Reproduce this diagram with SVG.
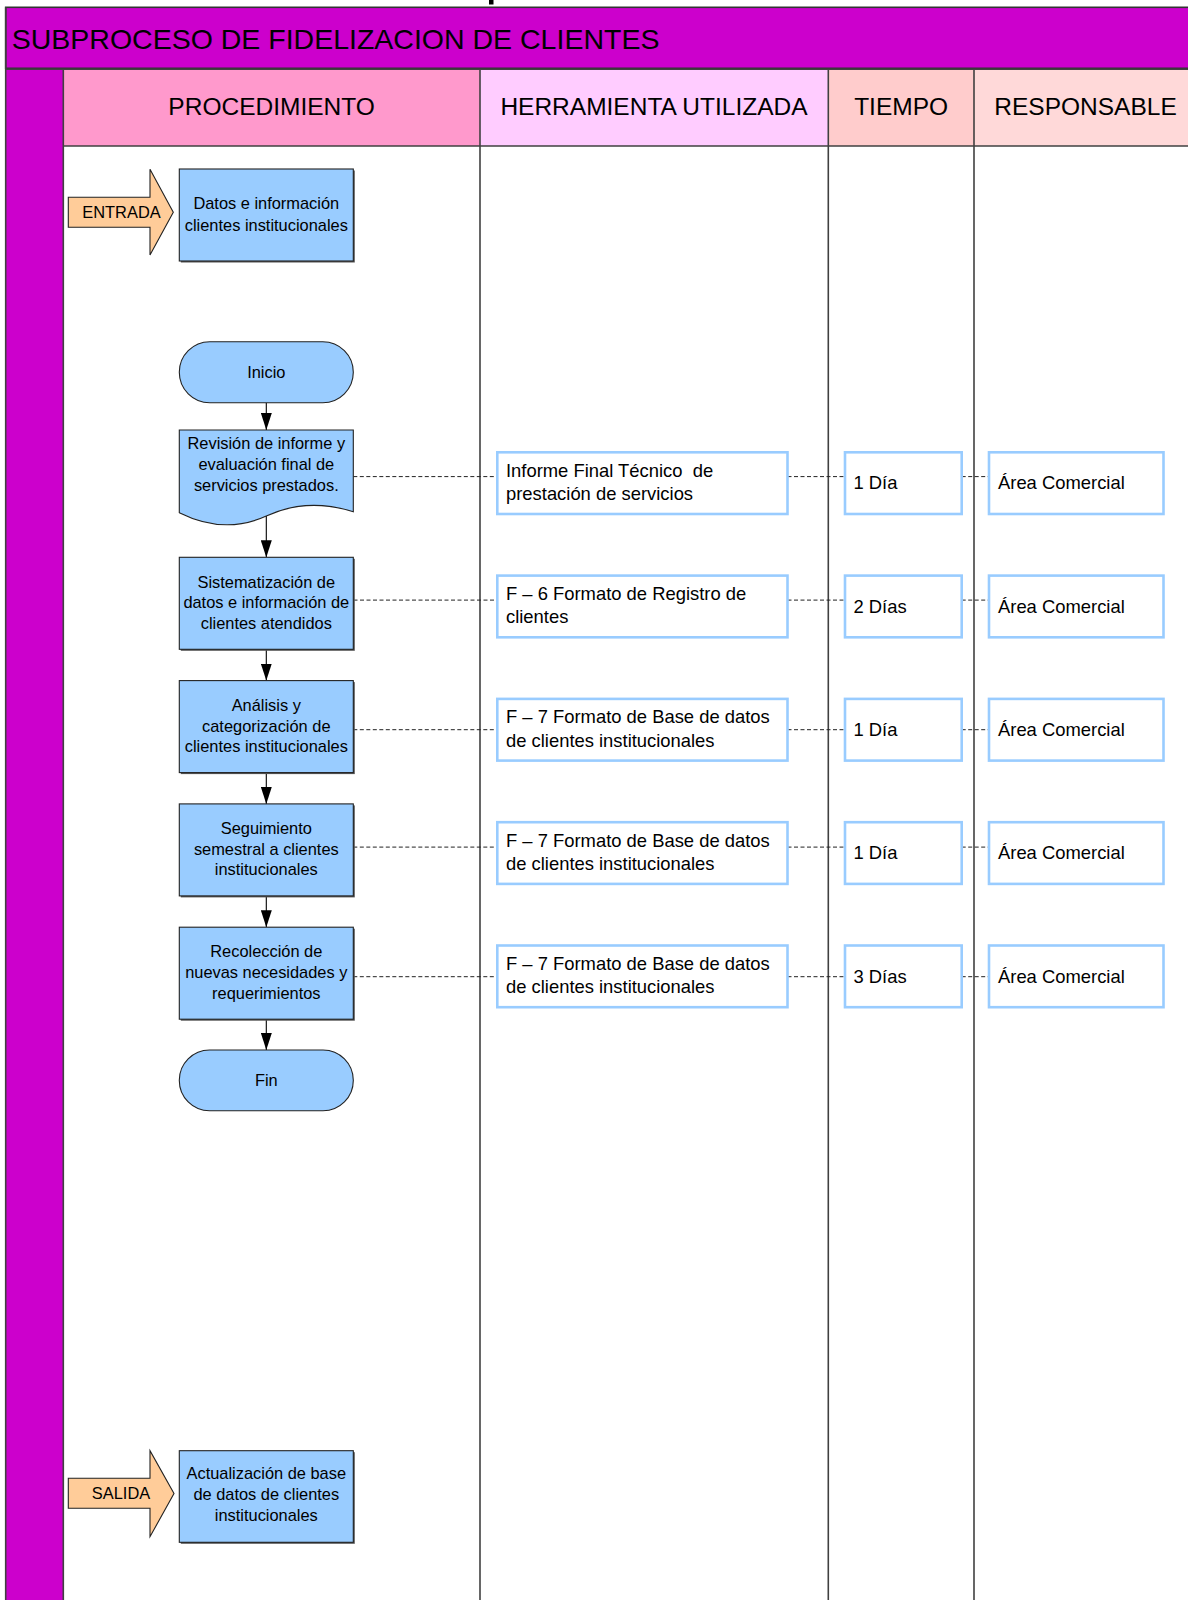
<svg xmlns="http://www.w3.org/2000/svg" width="1188" height="1600" viewBox="0 0 1188 1600">
  <defs>
    <style>
      .t { font-family: "Liberation Sans", Arial, sans-serif; fill: #000; }
      .hdr { font-size: 24.5px; text-anchor: middle; }
      .proc { font-size: 16.4px; text-anchor: middle; }
      .cell { font-size: 18.4px; }
      .grid { stroke: #404040; stroke-width: 1.6; fill: none; }
      .pbox { fill: #99CCFF; stroke: #222; stroke-width: 1.1; }
      .shadow { fill: #555; }
      .ibox { fill: #fff; stroke: #99CCFF; stroke-width: 2.6; }
      .io { fill: #FFCC99; stroke: #222; stroke-width: 1.1; }
      .flow { stroke: #000; stroke-width: 1.1; fill: none; marker-end: url(#arrow); }
      .dash { stroke: #222; stroke-width: 1; stroke-dasharray: 4 2.5; fill: none; }
    </style>
    <marker id="arrow" viewBox="0 0 17 11" refX="17" refY="5.5" markerWidth="17" markerHeight="11" markerUnits="userSpaceOnUse" orient="auto">
      <path d="M0,0 L17,5.5 L0,11 z" fill="#000"/>
    </marker>
  </defs>

  <rect x="0" y="0" width="1188" height="1600" fill="#fff"/>
  <rect x="489" y="0" width="4.5" height="4.5" fill="#000"/>

  <!-- title band -->
  <g id="title">
    <rect x="5.7" y="7.3" width="1190" height="61" fill="#CC00CC" stroke="#333" stroke-width="1.6"/>
    <text class="t" x="11.7" y="49.3" font-size="28.5">SUBPROCESO DE FIDELIZACION DE CLIENTES</text>
  </g>

  <!-- lane headers -->
  <g id="headers">
    <rect x="5.7" y="69.3" width="57.6" height="1540" fill="#CC00CC"/>
    <rect x="63.3" y="69.3" width="416.7" height="76.7" fill="#FF99CC"/>
    <rect x="480" y="69.3" width="348.3" height="76.7" fill="#FFCCFF"/>
    <rect x="828.3" y="69.3" width="145.7" height="76.7" fill="#FFCCCC"/>
    <rect x="974" y="69.3" width="220" height="76.7" fill="#FFD9D9"/>
    <text class="t hdr" x="271.6" y="115">PROCEDIMIENTO</text>
    <text class="t hdr" x="654" y="115">HERRAMIENTA UTILIZADA</text>
    <text class="t hdr" x="901.1" y="115">TIEMPO</text>
    <text class="t hdr" x="1085.5" y="115">RESPONSABLE</text>
  </g>

  <!-- grid lines -->
  <g id="grid" class="grid">
    <line x1="5.7" y1="69.3" x2="1188" y2="69.3"/>
    <line x1="63.3" y1="146" x2="1188" y2="146"/>
    <line x1="5.7" y1="7.3" x2="5.7" y2="1600"/>
    <line x1="63.3" y1="69.3" x2="63.3" y2="1600"/>
    <line x1="480" y1="69.3" x2="480" y2="1600"/>
    <line x1="828.3" y1="69.3" x2="828.3" y2="1600"/>
    <line x1="974" y1="69.3" x2="974" y2="1600"/>
  </g>

  <!-- connectors -->
  <g id="connectors">
    <line class="flow" x1="266.3" y1="402.7" x2="266.3" y2="430"/>
    <line class="flow" x1="266.3" y1="516" x2="266.3" y2="557.3"/>
    <line class="flow" x1="266.3" y1="649.3" x2="266.3" y2="680.6"/>
    <line class="flow" x1="266.3" y1="772.6" x2="266.3" y2="803.9"/>
    <line class="flow" x1="266.3" y1="895.9" x2="266.3" y2="927.2"/>
    <line class="flow" x1="266.3" y1="1019.2" x2="266.3" y2="1050"/>

    <path class="dash" d="M353.3,476.6 H497.3 M787.5,476.6 H845 M961.7,476.6 H989"/>
    <path class="dash" d="M347,600.1 H497.3 M787.5,600.1 H845 M961.7,600.1 H989"/>
    <path class="dash" d="M353.3,729.7 H497.3 M787.5,729.7 H845 M961.7,729.7 H989"/>
    <path class="dash" d="M353.3,847.1 H497.3 M787.5,847.1 H845 M961.7,847.1 H989"/>
    <path class="dash" d="M353.3,976.7 H497.3 M787.5,976.7 H845 M961.7,976.7 H989"/>
  </g>

  <!-- input -->
  <g id="entrada">
    <path class="io" d="M68.3,197.3 H150 V169.3 L173.3,212.2 L150,255 V227.3 H68.3 z"/>
    <text class="t proc" x="121.5" y="217.5">ENTRADA</text>
  </g>
  <g id="datos">
    <rect class="shadow" x="180.8" y="170.5" width="174" height="92"/>
    <rect class="pbox" x="179.3" y="169" width="174" height="92"/>
    <text class="t proc" x="266.3" y="209.3">Datos e información</text>
    <text class="t proc" x="266.3" y="230.7">clientes institucionales</text>
  </g>

  <!-- start -->
  <g id="inicio">
    <rect class="pbox" x="179.3" y="341.7" width="174" height="61" rx="30.5" ry="30.5"/>
    <text class="t proc" x="266.3" y="377.5">Inicio</text>
  </g>

  <!-- document step -->
  <g id="revision">
    <path class="pbox" d="M179.3,430 H353.3 V511.7 C322,502 292,504 266.3,516 C240,528 210,528 179.3,512.7 z"/>
    <text class="t proc" x="266.3" y="449.3">Revisión de informe y</text>
    <text class="t proc" x="266.3" y="469.8">evaluación final de</text>
    <text class="t proc" x="266.3" y="490.5">servicios prestados.</text>
  </g>

  <g id="sistematizacion">
    <rect class="shadow" x="180.8" y="558.8" width="174" height="92"/>
    <rect class="pbox" x="179.3" y="557.3" width="174" height="92"/>
    <text class="t proc" x="266.3" y="587.5">Sistematización de</text>
    <text class="t proc" x="266.3" y="608.2">datos e información de</text>
    <text class="t proc" x="266.3" y="628.6">clientes atendidos</text>
  </g>

  <g id="analisis">
    <rect class="shadow" x="180.8" y="682.1" width="174" height="92"/>
    <rect class="pbox" x="179.3" y="680.6" width="174" height="92"/>
    <text class="t proc" x="266.3" y="710.8">Análisis y</text>
    <text class="t proc" x="266.3" y="731.5">categorización de</text>
    <text class="t proc" x="266.3" y="751.9">clientes institucionales</text>
  </g>

  <g id="seguimiento">
    <rect class="shadow" x="180.8" y="805.4" width="174" height="92"/>
    <rect class="pbox" x="179.3" y="803.9" width="174" height="92"/>
    <text class="t proc" x="266.3" y="834.1">Seguimiento</text>
    <text class="t proc" x="266.3" y="854.8">semestral a clientes</text>
    <text class="t proc" x="266.3" y="875.2">institucionales</text>
  </g>

  <g id="recoleccion">
    <rect class="shadow" x="180.8" y="928.7" width="174" height="92"/>
    <rect class="pbox" x="179.3" y="927.2" width="174" height="92"/>
    <text class="t proc" x="266.3" y="957.4">Recolección de</text>
    <text class="t proc" x="266.3" y="978.1">nuevas necesidades y</text>
    <text class="t proc" x="266.3" y="998.5">requerimientos</text>
  </g>

  <!-- end -->
  <g id="fin">
    <rect class="pbox" x="179.3" y="1050" width="174" height="60.7" rx="30.3" ry="30.3"/>
    <text class="t proc" x="266.3" y="1085.7">Fin</text>
  </g>

  <!-- output -->
  <g id="salida">
    <path class="io" d="M68.3,1478.3 H150 V1450.7 L174,1493.5 L150,1536.7 V1508.3 H68.3 z"/>
    <text class="t proc" x="121" y="1499.3">SALIDA</text>
  </g>
  <g id="actualizacion">
    <rect class="shadow" x="180.8" y="1452.2" width="174" height="91.6"/>
    <rect class="pbox" x="179.3" y="1450.7" width="174" height="91.6"/>
    <text class="t proc" x="266.3" y="1479.3">Actualización de base</text>
    <text class="t proc" x="266.3" y="1500">de datos de clientes</text>
    <text class="t proc" x="266.3" y="1520.7">institucionales</text>
  </g>

  <!-- tool / time / owner cells -->
  <g id="row1">
    <rect class="ibox" x="497.3" y="452.3" width="290.2" height="61.7"/>
    <text class="t cell" x="506" y="476.7">Informe Final Técnico&#160; de</text>
    <text class="t cell" x="506" y="500">prestación de servicios</text>
    <rect class="ibox" x="845" y="452.3" width="116.7" height="61.7"/>
    <text class="t cell" x="853.5" y="489.3">1 Día</text>
    <rect class="ibox" x="989" y="452.3" width="174.5" height="61.7"/>
    <text class="t cell" x="998" y="489.3">Área Comercial</text>
  </g>
  <g id="row2">
    <rect class="ibox" x="497.3" y="575.6" width="290.2" height="61.7"/>
    <text class="t cell" x="506" y="600.4">F – 6 Formato de Registro de</text>
    <text class="t cell" x="506" y="623.3">clientes</text>
    <rect class="ibox" x="845" y="575.6" width="116.7" height="61.7"/>
    <text class="t cell" x="853.5" y="612.6">2 Días</text>
    <rect class="ibox" x="989" y="575.6" width="174.5" height="61.7"/>
    <text class="t cell" x="998" y="612.6">Área Comercial</text>
  </g>
  <g id="row3">
    <rect class="ibox" x="497.3" y="698.9" width="290.2" height="61.7"/>
    <text class="t cell" x="506" y="723.3">F – 7 Formato de Base de datos</text>
    <text class="t cell" x="506" y="746.6">de clientes institucionales</text>
    <rect class="ibox" x="845" y="698.9" width="116.7" height="61.7"/>
    <text class="t cell" x="853.5" y="735.9">1 Día</text>
    <rect class="ibox" x="989" y="698.9" width="174.5" height="61.7"/>
    <text class="t cell" x="998" y="735.9">Área Comercial</text>
  </g>
  <g id="row4">
    <rect class="ibox" x="497.3" y="822.2" width="290.2" height="61.7"/>
    <text class="t cell" x="506" y="846.6">F – 7 Formato de Base de datos</text>
    <text class="t cell" x="506" y="869.9">de clientes institucionales</text>
    <rect class="ibox" x="845" y="822.2" width="116.7" height="61.7"/>
    <text class="t cell" x="853.5" y="859.2">1 Día</text>
    <rect class="ibox" x="989" y="822.2" width="174.5" height="61.7"/>
    <text class="t cell" x="998" y="859.2">Área Comercial</text>
  </g>
  <g id="row5">
    <rect class="ibox" x="497.3" y="945.5" width="290.2" height="61.7"/>
    <text class="t cell" x="506" y="969.9">F – 7 Formato de Base de datos</text>
    <text class="t cell" x="506" y="993.2">de clientes institucionales</text>
    <rect class="ibox" x="845" y="945.5" width="116.7" height="61.7"/>
    <text class="t cell" x="853.5" y="982.5">3 Días</text>
    <rect class="ibox" x="989" y="945.5" width="174.5" height="61.7"/>
    <text class="t cell" x="998" y="982.5">Área Comercial</text>
  </g>
</svg>
